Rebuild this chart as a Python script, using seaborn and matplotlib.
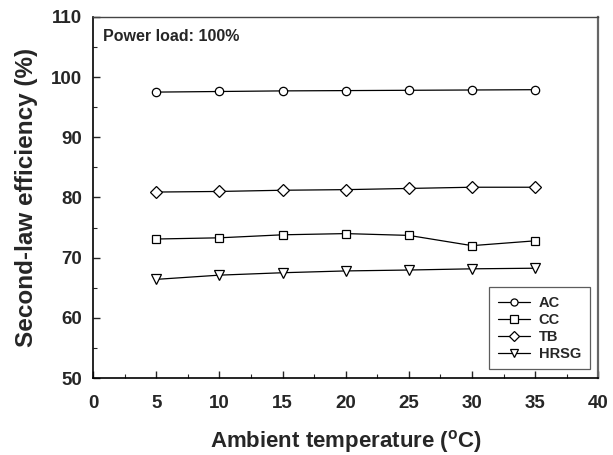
import matplotlib
matplotlib.use("Agg")
import matplotlib.pyplot as plt
import seaborn as sns
import pandas as pd
from matplotlib.ticker import MultipleLocator

temps = [5, 10, 15, 20, 25, 30, 35]
ac = [97.5, 97.6, 97.7, 97.75, 97.8, 97.85, 97.9]
cc = [73.1, 73.3, 73.8, 74.0, 73.7, 72.0, 72.8]
tb = [80.9, 81.0, 81.2, 81.3, 81.5, 81.7, 81.7]
hrsg = [66.4, 67.1, 67.5, 67.8, 67.95, 68.15, 68.25]
series_names = ["AC", "CC", "TB", "HRSG"]
series_vals = [ac, cc, tb, hrsg]
marker_map = {"AC": "o", "CC": "s", "TB": "D", "HRSG": "v"}
marker_size = {"AC": 6, "CC": 6, "TB": 6, "HRSG": 6.5}

sns.set_theme(style="ticks")
plt.rcParams['font.family'] = ['Liberation Sans', 'DejaVu Sans']
plt.rcParams['font.weight'] = 'bold'
plt.rcParams['mathtext.fontset'] = 'custom'
plt.rcParams['mathtext.rm'] = 'Liberation Sans:bold'
plt.rcParams['mathtext.bf'] = 'Liberation Sans:bold'
plt.rcParams['mathtext.it'] = 'Liberation Sans:bold'

fig = plt.figure(figsize=(6.13, 4.55), dpi=100)
ax = fig.add_axes([0.152, 0.169, 0.824, 0.794])

for name, vals in zip(series_names, series_vals):
    df = pd.DataFrame({"T": temps, "eff": vals})
    sns.lineplot(data=df, x="T", y="eff", ax=ax, color="black", lw=0.9,
                 marker=marker_map[name], markersize=marker_size[name],
                 markerfacecolor="white", markeredgecolor="black",
                 markeredgewidth=0.9, label=name)

ax.set_xlim(0, 40)
ax.set_ylim(50, 110)
ax.xaxis.set_major_locator(MultipleLocator(5))
ax.xaxis.set_minor_locator(MultipleLocator(2.5))
ax.yaxis.set_major_locator(MultipleLocator(10))
ax.yaxis.set_minor_locator(MultipleLocator(5))
ax.tick_params(which="major", direction="in", length=5, width=1, labelsize=13.5)
ax.tick_params(axis="x", which="major", pad=12)
ax.tick_params(axis="y", which="major", pad=8)
ax.tick_params(which="minor", direction="in", length=3, width=0.8)
for lab in ax.get_xticklabels() + ax.get_yticklabels():
    lab.set_fontweight("bold")

for s in ["left", "bottom"]:
    ax.spines[s].set_color("black")
    ax.spines[s].set_linewidth(1.2)
ax.spines["top"].set_color("#444444")
ax.spines["top"].set_linewidth(1.0)
ax.spines["right"].set_color("#666666")
ax.spines["right"].set_linewidth(1.6)

ax.set_xlabel(r"Ambient temperature ($^{\mathbf{o}}$C)", fontsize=16, fontweight="bold", labelpad=12)
ax.set_ylabel("Second-law efficiency (%)", fontsize=17.5, fontweight="bold", labelpad=9)

ax.text(0.02, 0.965, "Power load: 100%", transform=ax.transAxes, ha="left", va="top",
        fontsize=11.5, fontweight="bold")

leg = ax.legend(loc="lower right", frameon=True, fancybox=False,
                borderaxespad=0.6, handlelength=2.2, labelspacing=0.2, borderpad=0.6,
                handletextpad=0.6, markerscale=0.85,
                edgecolor="#333333", prop={"weight": "bold", "size": 10.5})
leg.get_frame().set_linewidth(0.9)

fig.savefig("out.png", dpi=100)
